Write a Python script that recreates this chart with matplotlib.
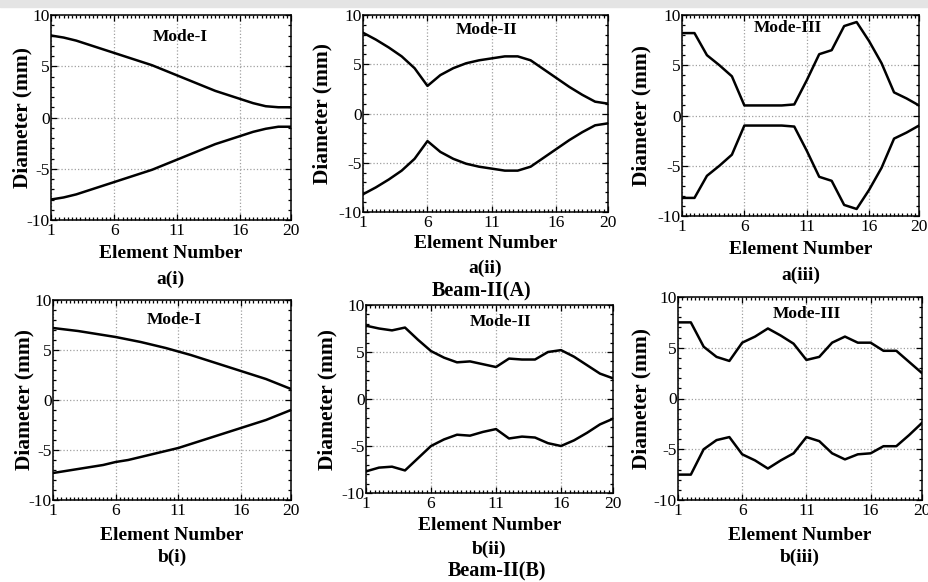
import matplotlib.pyplot as plt
from matplotlib.ticker import MultipleLocator
from matplotlib.patches import Rectangle
import numpy as np

plt.rcParams['font.family'] = ['Liberation Serif', 'DejaVu Serif']
plt.rcParams['axes.unicode_minus'] = False

elements = np.arange(1, 21)

# Beam-II(A)
a1_upper = [8.0, 7.8, 7.5, 7.1, 6.7, 6.3, 5.9, 5.5, 5.1, 4.6, 4.1, 3.6, 3.1, 2.6, 2.2, 1.8, 1.4, 1.1, 1.0, 1.0]
a1_lower = [-8.0, -7.8, -7.5, -7.1, -6.7, -6.3, -5.9, -5.5, -5.1, -4.6, -4.1, -3.6, -3.1, -2.6, -2.2, -1.8, -1.4, -1.1, -0.9, -0.9]
a2_upper = [8.2, 7.5, 6.7, 5.8, 4.6, 2.8, 3.9, 4.6, 5.1, 5.4, 5.6, 5.8, 5.8, 5.4, 4.5, 3.6, 2.7, 1.9, 1.2, 1.0]
a2_lower = [-8.2, -7.5, -6.7, -5.8, -4.6, -2.8, -3.9, -4.6, -5.1, -5.4, -5.6, -5.8, -5.8, -5.4, -4.5, -3.6, -2.7, -1.9, -1.2, -1.0]
a3_upper = [8.2, 8.2, 6.0, 5.0, 3.9, 1.0, 1.0, 1.0, 1.0, 1.1, 3.5, 6.1, 6.5, 8.9, 9.3, 7.4, 5.2, 2.3, 1.7, 1.0]
a3_lower = [-8.2, -8.2, -6.0, -5.0, -3.9, -1.0, -1.0, -1.0, -1.0, -1.1, -3.5, -6.1, -6.5, -8.9, -9.3, -7.4, -5.2, -2.3, -1.7, -1.0]

# Beam-II(B)
b1_upper = [7.2, 7.05, 6.9, 6.7, 6.5, 6.3, 6.05, 5.8, 5.5, 5.2, 4.85, 4.5, 4.1, 3.7, 3.3, 2.9, 2.5, 2.1, 1.6, 1.1]
b1_lower = [-7.3, -7.1, -6.9, -6.7, -6.5, -6.2, -6.0, -5.7, -5.4, -5.1, -4.8, -4.4, -4.0, -3.6, -3.2, -2.8, -2.4, -2.0, -1.5, -1.0]
b2_upper = [7.8, 7.5, 7.3, 7.6, 6.3, 5.1, 4.4, 3.9, 4.0, 3.7, 3.4, 4.3, 4.2, 4.2, 5.0, 5.2, 4.5, 3.6, 2.7, 2.2]
b2_lower = [-7.7, -7.3, -7.2, -7.6, -6.3, -5.0, -4.3, -3.8, -3.9, -3.5, -3.2, -4.2, -4.0, -4.1, -4.7, -5.0, -4.4, -3.6, -2.7, -2.1]
b3_upper = [7.5, 7.5, 5.1, 4.1, 3.7, 5.5, 6.1, 6.9, 6.2, 5.4, 3.8, 4.1, 5.5, 6.1, 5.5, 5.5, 4.7, 4.7, 3.6, 2.5]
b3_lower = [-7.5, -7.5, -5.0, -4.1, -3.8, -5.5, -6.1, -6.9, -6.1, -5.4, -3.8, -4.2, -5.4, -6.0, -5.5, -5.4, -4.7, -4.7, -3.6, -2.4]

modes = ["Mode-I", "Mode-II", "Mode-III", "Mode-I", "Mode-II", "Mode-III"]
tags = ["a(i)", "a(ii)", "a(iii)", "b(i)", "b(ii)", "b(iii)"]
uppers = [a1_upper, a2_upper, a3_upper, b1_upper, b2_upper, b3_upper]
lowers = [a1_lower, a2_lower, a3_lower, b1_lower, b2_lower, b3_lower]

W, H = 929, 582

# layout in pixels: (left, top, right, bottom), ylabel x, xlabel y, tag y, mode (x, y)
layout = [
    ((51, 15, 291, 220), 22, 254, 279, (180, 37)),
    ((363, 15, 608, 212), 322, 243, 268, (487, 30)),
    ((682, 15, 919, 216), 641, 250, 275, (788, 28)),
    ((53, 300, 291, 500), 24, 535, 557, (174, 320)),
    ((366, 305, 613, 493), 327, 525, 549, (501, 322)),
    ((678, 297, 922, 500), 641, 535, 557, (807, 314)),
]


def fx(px):
    return px / W


def fy(py):
    return 1 - py / H


fig = plt.figure(figsize=(W / 100, H / 100), dpi=100)
fig.patches.append(Rectangle((0, fy(7)), 1, 1 - fy(7), transform=fig.transFigure,
                             color='#e4e4e4', zorder=-1))

for i in range(6):
    (l, t, r, b), ylx, xly, tagy, (mx, my) = layout[i]
    ax = fig.add_axes([fx(l), fy(b), fx(r) - fx(l), fy(t) - fy(b)])
    ax.plot(elements, uppers[i], color='black', lw=1.8)
    ax.plot(elements, lowers[i], color='black', lw=1.8)
    ax.set_xlim(1, 20)
    ax.set_ylim(-10, 10)
    ax.set_xticks([1, 6, 11, 16, 20])
    ax.set_yticks([-10, -5, 0, 5, 10])
    ax.xaxis.set_minor_locator(MultipleLocator(1 / 3))
    ax.yaxis.set_minor_locator(MultipleLocator(1))
    ax.tick_params(which='both', direction='in', top=True, right=True, labelsize=12.5, width=0.9)
    ax.tick_params(which='major', length=4, pad=2)
    ax.tick_params(axis='y', which='major', pad=1)
    ax.tick_params(which='minor', length=2.5)
    ax.grid(True, linestyle=':', color='#a0a0a0', lw=0.9)
    for s in ax.spines.values():
        s.set_linewidth(1.1)

    ax.set_ylabel("Diameter (mm)", fontsize=15.5, fontweight='bold')
    ax.yaxis.set_label_coords(fx(ylx), fy((t + b) / 2), transform=fig.transFigure)
    ax.yaxis.label.set_va('center')
    ax.set_xlabel("Element Number", fontsize=14, fontweight='bold')
    ax.xaxis.set_label_coords(fx((l + r) / 2), fy(xly), transform=fig.transFigure)
    ax.xaxis.label.set_va('center')

    fig.text(fx(mx), fy(my), modes[i], ha='center', va='center', fontsize=12.5, fontweight='bold')
    fig.text(fx((l + r) / 2), fy(tagy), tags[i], ha='center', va='center',
             fontsize=14, fontweight='bold')

fig.text(fx(482), fy(291), "Beam-II(A)", ha='center', va='center', fontsize=14.5, fontweight='bold')
fig.text(fx(497), fy(571), "Beam-II(B)", ha='center', va='center', fontsize=14.5, fontweight='bold')

fig.savefig("out.png", dpi=100)
